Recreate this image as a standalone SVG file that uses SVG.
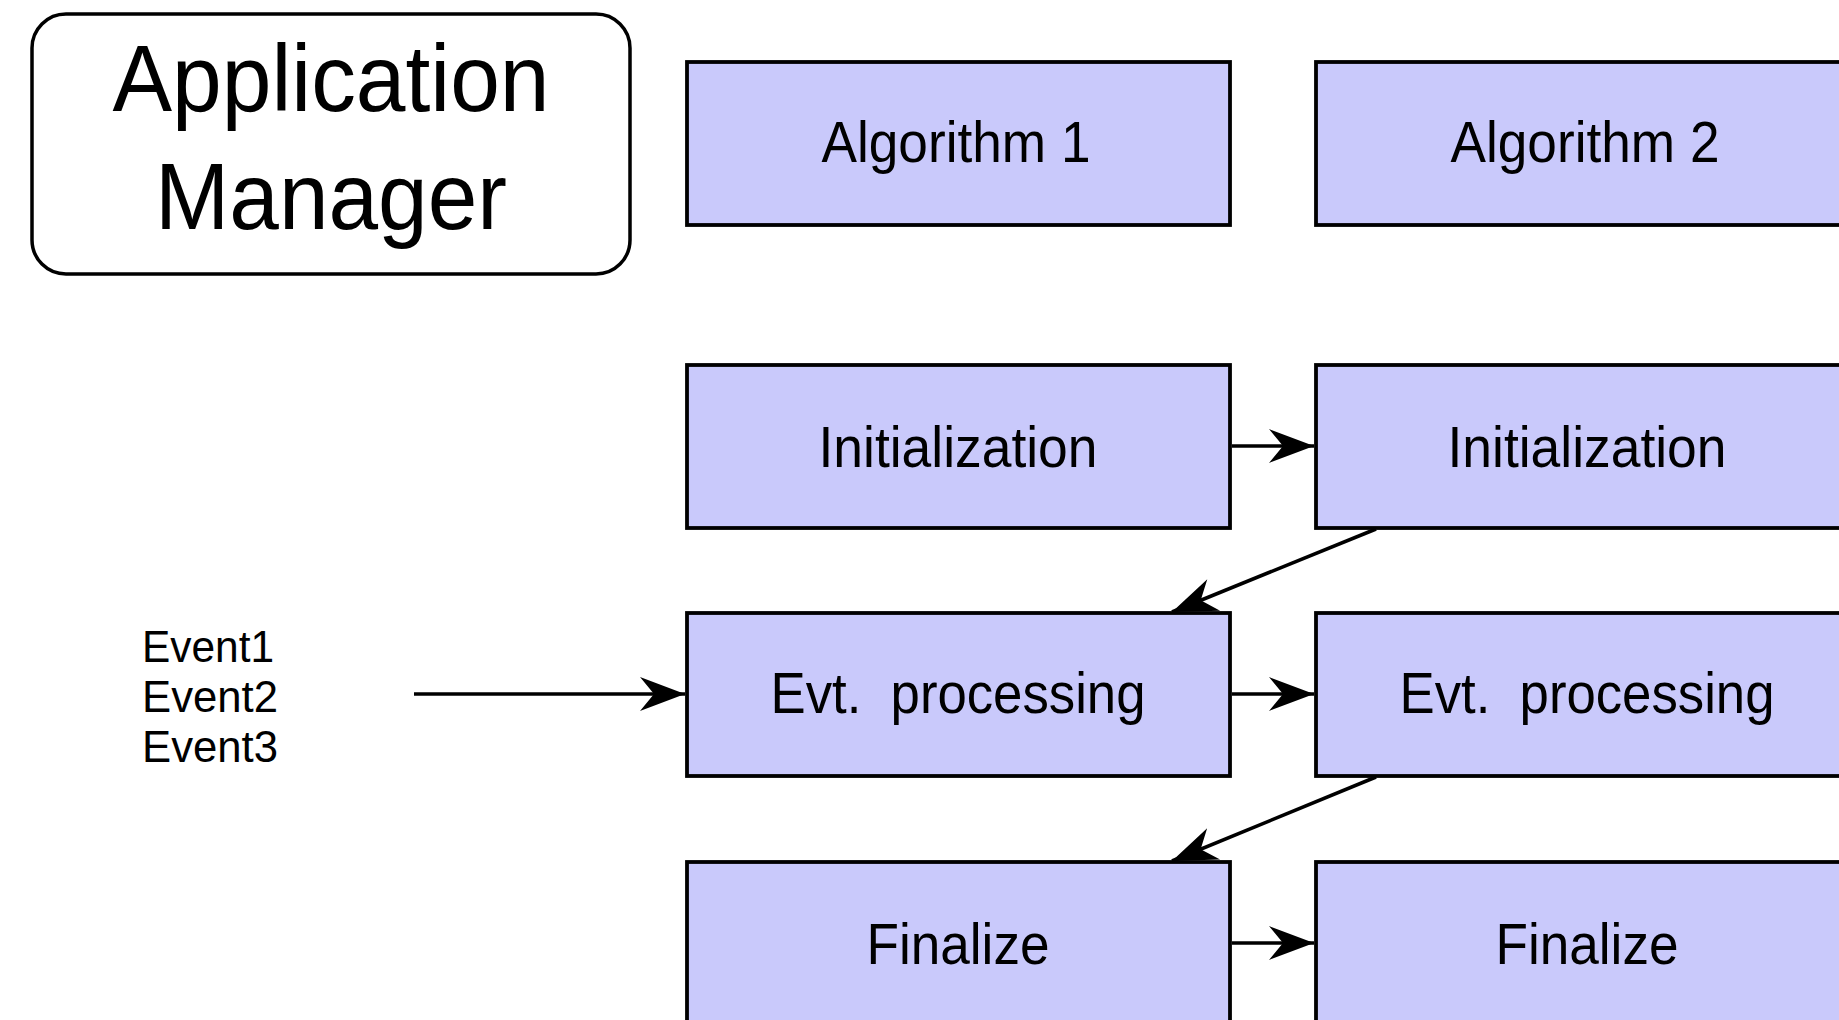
<svg xmlns="http://www.w3.org/2000/svg" width="1839" height="1020" viewBox="0 0 1839 1020">
  <style>
    .box { fill: #c9c9fb; stroke: #000; stroke-width: 3.8; }
    .mgr { fill: #fff; stroke: #000; stroke-width: 3.5; }
    .lbl { font-family: "Liberation Sans", Arial, Helvetica, sans-serif; fill: #000; text-anchor: middle; white-space: pre; }
    .step { font-size: 58px; }
    .title { font-size: 95px; }
    .evt { font-family: "Liberation Sans", Arial, Helvetica, sans-serif; font-size: 45px; fill: #000; }
    .conn { stroke: #000; stroke-width: 3.6; fill: none; marker-end: url(#head); }
  </style>
  <defs>
    <!-- notched arrowhead, tip at the end of the line -->
    <marker id="head" markerUnits="userSpaceOnUse" viewBox="-47 -19 49 38" refX="0" refY="0" markerWidth="49" markerHeight="38" orient="auto">
      <path d="M0,0 L-45,-17 L-31,0 L-45,17 Z" fill="#000"/>
    </marker>
  </defs>
  <rect width="1839" height="1020" fill="#fff"/>

  <g id="app-manager">
    <rect class="mgr" x="32" y="14" width="598" height="260" rx="34" ry="34"/>
    <text class="lbl title" x="331" y="111" textLength="437" lengthAdjust="spacingAndGlyphs">Application</text>
    <text class="lbl title" x="331" y="229" textLength="352" lengthAdjust="spacingAndGlyphs">Manager</text>
  </g>

  <g id="algorithm-1">
    <rect class="box" x="687" y="62" width="543" height="163"/>
    <text class="lbl step" x="956" y="162" textLength="269" lengthAdjust="spacingAndGlyphs">Algorithm 1</text>
  </g>
  <g id="algorithm-2">
    <rect class="box" x="1316" y="62" width="543" height="163"/>
    <text class="lbl step" x="1585" y="162" textLength="269" lengthAdjust="spacingAndGlyphs">Algorithm 2</text>
  </g>

  <g id="init-1">
    <rect class="box" x="687" y="365" width="543" height="163"/>
    <text class="lbl step" x="958" y="467" textLength="279" lengthAdjust="spacingAndGlyphs">Initialization</text>
  </g>
  <g id="init-2">
    <rect class="box" x="1316" y="365" width="543" height="163"/>
    <text class="lbl step" x="1587" y="467" textLength="279" lengthAdjust="spacingAndGlyphs">Initialization</text>
  </g>

  <g id="evt-1">
    <rect class="box" x="687" y="613" width="543" height="163"/>
    <text class="lbl step" x="958" y="713" textLength="375" lengthAdjust="spacingAndGlyphs">Evt.  processing</text>
  </g>
  <g id="evt-2">
    <rect class="box" x="1316" y="613" width="543" height="163"/>
    <text class="lbl step" x="1587" y="713" textLength="375" lengthAdjust="spacingAndGlyphs">Evt.  processing</text>
  </g>

  <g id="final-1">
    <rect class="box" x="687" y="862" width="543" height="180"/>
    <text class="lbl step" x="958" y="964" textLength="183" lengthAdjust="spacingAndGlyphs">Finalize</text>
  </g>
  <g id="final-2">
    <rect class="box" x="1316" y="862" width="543" height="180"/>
    <text class="lbl step" x="1587" y="964" textLength="183" lengthAdjust="spacingAndGlyphs">Finalize</text>
  </g>

  <g id="events">
    <text class="evt" x="142" y="662" textLength="132" lengthAdjust="spacingAndGlyphs">Event1</text>
    <text class="evt" x="142" y="712" textLength="136" lengthAdjust="spacingAndGlyphs">Event2</text>
    <text class="evt" x="142" y="762" textLength="136" lengthAdjust="spacingAndGlyphs">Event3</text>
  </g>

  <g id="connectors">
    <line class="conn" x1="414" y1="694" x2="685" y2="694"/>
    <line class="conn" x1="1232" y1="446" x2="1314" y2="446"/>
    <line class="conn" x1="1232" y1="694" x2="1314" y2="694"/>
    <line class="conn" x1="1232" y1="943" x2="1314" y2="943"/>
    <line class="conn" x1="1376" y1="529" x2="1172" y2="612"/>
    <line class="conn" x1="1376" y1="777" x2="1172" y2="861"/>
  </g>
</svg>
